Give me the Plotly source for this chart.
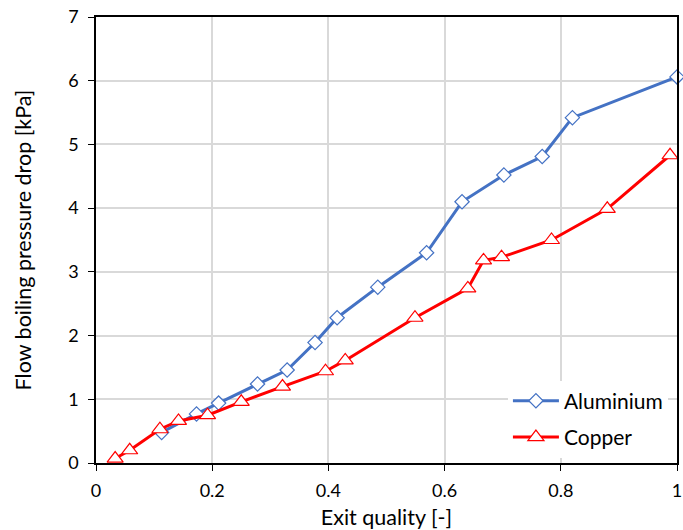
import plotly.graph_objects as go

al_x = [0.113, 0.173, 0.211, 0.278, 0.329, 0.377, 0.415, 0.485, 0.569, 0.630, 0.702, 0.768, 0.820, 1.0]
al_y = [0.48, 0.77, 0.94, 1.24, 1.46, 1.89, 2.28, 2.76, 3.30, 4.10, 4.52, 4.81, 5.42, 6.06]

cu_x = [0.033, 0.058, 0.110, 0.142, 0.192, 0.250, 0.321, 0.395, 0.429, 0.549, 0.640, 0.667, 0.698, 0.784, 0.880, 0.988]
cu_y = [0.07, 0.20, 0.53, 0.66, 0.75, 0.96, 1.20, 1.44, 1.61, 2.28, 2.74, 3.18, 3.23, 3.50, 3.99, 4.83]

font = "Lato, sans-serif"

fig = go.Figure()
fig.add_trace(go.Scatter(
    x=al_x, y=al_y, name="Aluminium", mode="lines+markers", legendgroup="a",
    line=dict(color="#4472C4", width=3),
    marker=dict(symbol="diamond", size=11, color="white",
                line=dict(color="#4472C4", width=1.2)),
    cliponaxis=False,
))
fig.add_trace(go.Scatter(
    x=cu_x, y=cu_y, name="Copper", mode="lines+markers", legendgroup="c",
    line=dict(color="#FF0000", width=3),
    marker=dict(symbol="triangle-up", size=14, color="white",
                line=dict(color="#FF0000", width=1.2)),
    cliponaxis=False,
))

axis_common = dict(
    showgrid=True, gridcolor="#D9D9D9", gridwidth=1.5,
    showline=True, linecolor="black", linewidth=1.5, mirror=True,
    ticks="outside", ticklen=6, tickcolor="black", tickwidth=1,
    zeroline=False, automargin=False,
    tickfont=dict(family=font, size=18, color="black"),
)

fig.update_layout(
    width=683, height=530,
    margin=dict(l=96, r=6, t=17, b=67),
    paper_bgcolor="white", plot_bgcolor="white",
    font=dict(family=font, color="black"),
    xaxis=dict(range=[0, 1], dtick=0.2, tickformat="~g", ticklabelstandoff=5,
               title=dict(text="Exit quality [-]", font=dict(family=font, size=21.5), standoff=22),
               **axis_common),
    yaxis=dict(range=[0, 7], dtick=1, ticklabelstandoff=6,
               title=dict(text="Flow boiling pressure drop [kPa]", font=dict(family=font, size=21.5), standoff=31),
               **axis_common),
    legend=dict(x=0.709, y=0.012, xanchor="left", yanchor="bottom",
                bgcolor="white", font=dict(family=font, size=21),
                itemwidth=46, traceorder="grouped", tracegroupgap=6),
    showlegend=True,
)

fig.write_html("out.html", config={"displayModeBar": False},
               post_script="document.body.style.margin='0';document.body.style.overflow='hidden';")
